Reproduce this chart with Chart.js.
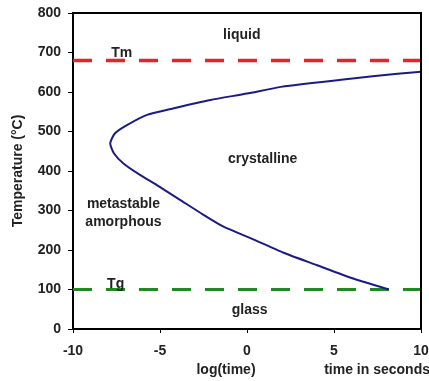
<!DOCTYPE html>
<html>
<head>
<meta charset="utf-8">
<script src="https://cdn.jsdelivr.net/npm/chart.js@4"></script>
<style>
  html, body { margin: 0; padding: 0; background: #fff; }
  #wrap { width: 429px; height: 381px; }
</style>
</head>
<body>
<div id="wrap"><canvas id="ttt"></canvas></div>
<script>
// TTT curve: log(time) vs temperature
var curveTime = [8.15, 6.1, 4.0, 2.1, 0.2, -1.35, -2.5, -3.85, -5.2, -6.15, -7.1, -7.65, -7.86, -7.6, -6.9, -5.75, -4.2, -2.1, 0.0, 1.95, 5.8, 8.65, 10];
var curveTemp = [100, 128, 162, 193, 230, 259, 289, 327, 365, 390, 419, 445, 470, 495, 516, 542, 559, 580, 596, 613, 633, 646, 651];

var tmTemp = 680;
var tgTemp = 100;
var timeRange = [-10, 10];

// region labels
var regionNames = ['liquid', 'Tm', 'crystalline', 'metastable', 'amorphous', 'Tg', 'glass'];
var regionTime  = [-0.3, -7.2, 0.9, -7.1, -7.1, -7.55, 0.15];
var regionTemp  = [744, 699, 430, 316, 270, 114, 48];

var FONT = 'Arial, "Liberation Sans", sans-serif';

function toPoints(xs, ys) {
   var pts = [];
   for (var i = 0; i < xs.length; i++) {
      pts.push({ x: xs[i], y: ys[i] });
   }
   return pts;
}

// draws the region names, the frame and the extra x captions
var textPlugin = {
   id: 'textPlugin',
   afterDatasetsDraw: function(chart) {
      var ctx = chart.ctx;
      var xs = chart.scales.x, ys = chart.scales.y;
      var a = chart.chartArea;
      ctx.save();
      ctx.fillStyle = '#222';
      ctx.font = 'bold 14px ' + FONT;
      ctx.textAlign = 'center';
      ctx.textBaseline = 'middle';
      for (var i = 0; i < regionNames.length; i++) {
         ctx.fillText(regionNames[i], xs.getPixelForValue(regionTime[i]), ys.getPixelForValue(regionTemp[i]));
      }
      ctx.fillText('log(time)', 226, 370);
      ctx.textAlign = 'right';
      ctx.fillText('time in seconds', 430, 370);

      ctx.strokeStyle = '#000';
      ctx.lineWidth = 2;
      ctx.beginPath();
      ctx.moveTo(a.left, a.top);
      ctx.lineTo(a.right, a.top);
      ctx.lineTo(a.right, a.bottom);
      ctx.stroke();
      ctx.restore();
   }
};

var ctx = document.getElementById('ttt').getContext('2d');
var chart = new Chart(ctx, {
   type: 'scatter',
   data: {
      datasets: [
         {
            label: 'TTT',
            data: toPoints(curveTime, curveTemp),
            showLine: true,
            borderColor: '#1b1b88',
            borderWidth: 2,
            pointRadius: 0,
            tension: 0.2
         },
         {
            label: 'Tm',
            data: toPoints(timeRange, [tmTemp, tmTemp]),
            showLine: true,
            borderColor: '#e3242b',
            borderWidth: 3.5,
            borderDash: [19, 14],
            pointRadius: 0
         },
         {
            label: 'Tg',
            data: toPoints(timeRange, [tgTemp, tgTemp]),
            showLine: true,
            borderColor: '#1f8a22',
            borderWidth: 3,
            borderDash: [19, 14],
            pointRadius: 0
         }
      ]
   },
   options: {
      responsive: true,
      maintainAspectRatio: false,
      animation: false,
      layout: { padding: { top: 13, right: 8, left: 0, bottom: 0 } },
      plugins: {
         legend: { display: false },
         tooltip: { enabled: false }
      },
      scales: {
         x: {
            type: 'linear',
            min: -10,
            max: 10,
            ticks: { stepSize: 5, color: '#222', padding: 10, font: { family: FONT, size: 14, weight: 'bold' } },
            grid: { drawOnChartArea: false, drawTicks: true, tickLength: 4, color: '#000' },
            border: { display: true, color: '#000', width: 2 },
            afterFit: function(scale) {
               scale.height = 52;
               scale.paddingLeft = 0;
               scale.paddingRight = 0;
            }
         },
         y: {
            min: 0,
            max: 800,
            ticks: { stepSize: 100, color: '#222', padding: 7, font: { family: FONT, size: 14, weight: 'bold' } },
            grid: { drawOnChartArea: false, drawTicks: true, tickLength: 5, color: '#000' },
            border: { display: true, color: '#000', width: 2 },
            title: {
               display: true,
               text: 'Temperature (°C)',
               color: '#222',
               padding: { top: 10, bottom: 0 },
               font: { family: FONT, size: 14, weight: 'bold' }
            },
            afterFit: function(scale) {
               scale.width = 73;
               scale.paddingTop = 0;
               scale.paddingBottom = 0;
            }
         }
      }
   },
   plugins: [textPlugin]
});
</script>
</body>
</html>
